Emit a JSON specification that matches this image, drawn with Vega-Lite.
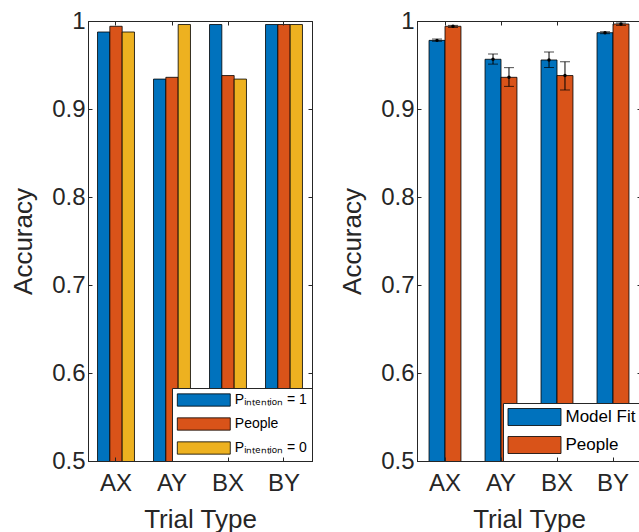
{
  "$schema": "https://vega.github.io/schema/vega-lite/v6.json",
  "background": "white",
  "padding": {"left": 10, "top": 8, "right": 0, "bottom": 0},
  "datasets": {
    "intention": [
      {"trial": "AX", "series": "Pᵢₙₜₑₙₜᵢₒₙ = 1", "acc": 0.9875},
      {"trial": "AX", "series": "People", "acc": 0.994},
      {"trial": "AX", "series": "Pᵢₙₜₑₙₜᵢₒₙ = 0", "acc": 0.9875},
      {"trial": "AY", "series": "Pᵢₙₜₑₙₜᵢₒₙ = 1", "acc": 0.934},
      {"trial": "AY", "series": "People", "acc": 0.936},
      {"trial": "AY", "series": "Pᵢₙₜₑₙₜᵢₒₙ = 0", "acc": 0.996},
      {"trial": "BX", "series": "Pᵢₙₜₑₙₜᵢₒₙ = 1", "acc": 0.996},
      {"trial": "BX", "series": "People", "acc": 0.938},
      {"trial": "BX", "series": "Pᵢₙₜₑₙₜᵢₒₙ = 0", "acc": 0.934},
      {"trial": "BY", "series": "Pᵢₙₜₑₙₜᵢₒₙ = 1", "acc": 0.996},
      {"trial": "BY", "series": "People", "acc": 0.996},
      {"trial": "BY", "series": "Pᵢₙₜₑₙₜᵢₒₙ = 0", "acc": 0.996}
    ],
    "fit": [
      {"trial": "AX", "series": "Model Fit", "acc": 0.978, "lo": 0.977, "hi": 0.9795},
      {"trial": "AX", "series": "People", "acc": 0.994, "lo": 0.9927, "hi": 0.995},
      {"trial": "AY", "series": "Model Fit", "acc": 0.9565, "lo": 0.951, "hi": 0.9625},
      {"trial": "AY", "series": "People", "acc": 0.936, "lo": 0.9257, "hi": 0.947},
      {"trial": "BX", "series": "Model Fit", "acc": 0.9557, "lo": 0.9473, "hi": 0.9648},
      {"trial": "BX", "series": "People", "acc": 0.938, "lo": 0.9216, "hi": 0.9537},
      {"trial": "BY", "series": "Model Fit", "acc": 0.9867, "lo": 0.9856, "hi": 0.9878},
      {"trial": "BY", "series": "People", "acc": 0.9966, "lo": 0.995, "hi": 0.9977}
    ]
  },
  "hconcat": [
    {
      "width": 224,
      "height": 440,
      "data": {"name": "intention"},
      "layer": [
        {
          "mark": {"type": "bar", "stroke": "#000000", "strokeWidth": 0.8, "clip": true},
          "encoding": {
            "x": {
              "field": "trial", "type": "nominal", "sort": ["AX", "AY", "BX", "BY"],
              "scale": {"paddingInner": 0.34, "paddingOuter": 0.17},
              "axis": {"orient": "bottom", "title": "Trial Type", "labelAngle": 0, "tickSize": -4, "labelPadding": 14, "titlePadding": 11, "zindex": 1}
            },
            "xOffset": {
              "field": "series", "type": "nominal",
              "sort": ["Pᵢₙₜₑₙₜᵢₒₙ = 1", "People", "Pᵢₙₜₑₙₜᵢₒₙ = 0"],
              "scale": {"paddingInner": 0, "paddingOuter": 0}
            },
            "y": {
              "field": "acc", "type": "quantitative",
              "scale": {"domain": [0.5, 1], "zero": false, "nice": false},
              "axis": {"orient": "left", "title": "Accuracy", "values": [0.5, 0.6, 0.7, 0.8, 0.9, 1], "format": "~g", "tickSize": -4, "labelPadding": 7, "titlePadding": 15, "labelFlush": false, "zindex": 1}
            },
            "color": {
              "field": "series", "type": "nominal",
              "scale": {
                "domain": ["Pᵢₙₜₑₙₜᵢₒₙ = 1", "People", "Pᵢₙₜₑₙₜᵢₒₙ = 0"],
                "range": ["#0072BD", "#D95319", "#EDB120"]
              },
              "legend": {
                "title": null, "orient": "bottom-right", "offset": 0, "padding": 5,
                "fillColor": "white", "strokeColor": "#262626",
                "symbolType": "M-4.31,-1H4.31V1H-4.31Z", "symbolSize": 151,
                "symbolStrokeColor": "#000000", "symbolStrokeWidth": 0.8, "symbolOpacity": 1,
                "symbolOffset": 19.8, "labelOffset": 24, "rowPadding": 8,
                "labelFontSize": 14, "labelColor": "#000000", "labelFont": "Liberation Sans"
              }
            }
          }
        },
        {
          "mark": {"type": "point", "opacity": 0},
          "encoding": {
            "x": {"field": "trial", "type": "nominal", "sort": ["AX", "AY", "BX", "BY"], "axis": {"orient": "top", "title": null, "labels": false, "tickSize": -4, "zindex": 1}},
            "y": {"field": "acc", "type": "quantitative", "axis": {"orient": "right", "title": null, "labels": false, "values": [0.5, 0.6, 0.7, 0.8, 0.9, 1], "tickSize": -4, "zindex": 1}}
          }
        }
      ],
      "resolve": {"axis": {"x": "independent", "y": "independent"}}
    },
    {
      "width": 224,
      "height": 440,
      "data": {"name": "fit"},
      "layer": [
        {
          "mark": {"type": "bar", "stroke": "#000000", "strokeWidth": 0.8, "clip": true},
          "encoding": {
            "x": {
              "field": "trial", "type": "nominal", "sort": ["AX", "AY", "BX", "BY"],
              "scale": {"paddingInner": 0.43, "paddingOuter": 0.215},
              "axis": {"orient": "bottom", "title": "Trial Type", "labelAngle": 0, "tickSize": -4, "labelPadding": 14, "titlePadding": 11, "zindex": 1}
            },
            "xOffset": {
              "field": "series", "type": "nominal", "sort": ["Model Fit", "People"],
              "scale": {"paddingInner": 0, "paddingOuter": 0}
            },
            "y": {
              "field": "acc", "type": "quantitative",
              "scale": {"domain": [0.5, 1], "zero": false, "nice": false},
              "axis": {"orient": "left", "title": "Accuracy", "values": [0.5, 0.6, 0.7, 0.8, 0.9, 1], "format": "~g", "tickSize": -4, "labelPadding": 7, "titlePadding": 15, "labelFlush": false, "zindex": 1}
            },
            "color": {
              "field": "series", "type": "nominal",
              "scale": {"domain": ["Model Fit", "People"], "range": ["#0072BD", "#D95319"]},
              "legend": {
                "title": null, "orient": "bottom-right", "offset": 0, "padding": 5,
                "fillColor": "white", "strokeColor": "#262626",
                "symbolType": "M-3.118,-1H3.118V1H-3.118Z", "symbolSize": 289,
                "symbolStrokeColor": "#000000", "symbolStrokeWidth": 0.8, "symbolOpacity": 1,
                "symbolOffset": 17.5, "labelOffset": 22, "rowPadding": 6,
                "labelFontSize": 17, "labelColor": "#000000", "labelFont": "Liberation Sans"
              }
            }
          }
        },
        {
          "mark": {"type": "rule", "color": "#000000", "strokeWidth": 1},
          "encoding": {
            "x": {"field": "trial", "type": "nominal", "sort": ["AX", "AY", "BX", "BY"], "axis": {"orient": "top", "title": null, "labels": false, "tickSize": -4, "zindex": 1}},
            "xOffset": {"field": "series", "type": "nominal", "sort": ["Model Fit", "People"]},
            "y": {"field": "lo", "type": "quantitative", "axis": {"orient": "right", "title": null, "labels": false, "values": [0.5, 0.6, 0.7, 0.8, 0.9, 1], "tickSize": -4, "zindex": 1}},
            "y2": {"field": "hi"}
          }
        },
        {
          "mark": {"type": "tick", "color": "#000000", "size": 10, "thickness": 1},
          "encoding": {
            "x": {"field": "trial", "type": "nominal", "sort": ["AX", "AY", "BX", "BY"], "axis": null},
            "xOffset": {"field": "series", "type": "nominal", "sort": ["Model Fit", "People"]},
            "y": {"field": "lo", "type": "quantitative", "axis": null}
          }
        },
        {
          "mark": {"type": "tick", "color": "#000000", "size": 10, "thickness": 1},
          "encoding": {
            "x": {"field": "trial", "type": "nominal", "sort": ["AX", "AY", "BX", "BY"], "axis": null},
            "xOffset": {"field": "series", "type": "nominal", "sort": ["Model Fit", "People"]},
            "y": {"field": "hi", "type": "quantitative", "axis": null}
          }
        },
        {
          "mark": {"type": "point", "filled": true, "color": "#000000", "size": 12, "opacity": 1},
          "encoding": {
            "x": {"field": "trial", "type": "nominal", "sort": ["AX", "AY", "BX", "BY"], "axis": null},
            "xOffset": {"field": "series", "type": "nominal", "sort": ["Model Fit", "People"]},
            "y": {"field": "acc", "type": "quantitative", "axis": null}
          }
        }
      ],
      "resolve": {"axis": {"x": "independent", "y": "independent"}}
    }
  ],
  "spacing": 26,
  "resolve": {
    "scale": {"x": "independent", "xOffset": "independent", "y": "independent", "color": "independent"},
    "legend": {"color": "independent"}
  },
  "config": {
    "font": "Liberation Sans",
    "view": {"stroke": "#262626", "strokeWidth": 1},
    "axis": {
      "grid": false,
      "labelFont": "Liberation Sans", "labelFontSize": 24, "labelColor": "#262626",
      "titleFont": "Liberation Sans", "titleFontSize": 26, "titleFontWeight": "normal", "titleColor": "#262626",
      "domainColor": "#262626", "tickColor": "#262626"
    },
    "legend": {"labelLimit": 300}
  }
}
